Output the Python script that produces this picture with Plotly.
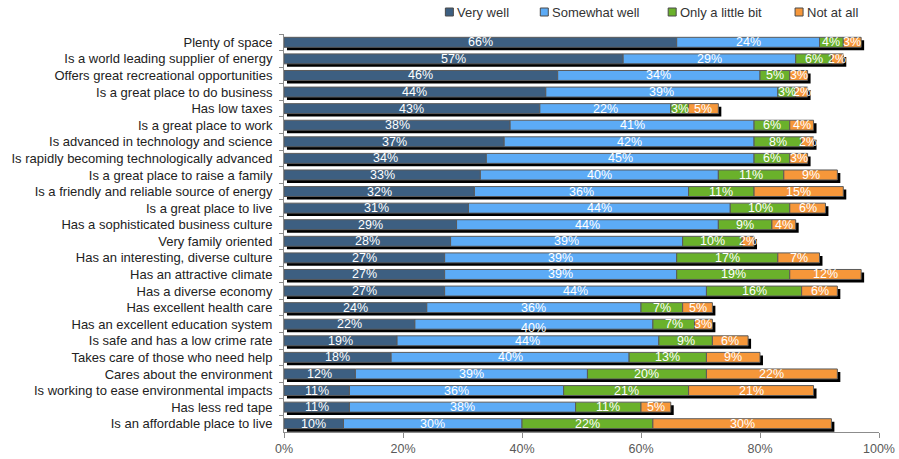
import plotly.graph_objects as go

categories = [
    "Plenty of space",
    "Is a world leading supplier of energy",
    "Offers great recreational opportunities",
    "Is a great place to do business",
    "Has low taxes",
    "Is a great place to work",
    "Is advanced in technology and science",
    "Is rapidly becoming technologically advanced",
    "Is a great place to raise a family",
    "Is a friendly and reliable source of energy",
    "Is a great place to live",
    "Has a sophisticated business culture",
    "Very family oriented",
    "Has an interesting, diverse culture",
    "Has an attractive climate",
    "Has a diverse economy",
    "Has excellent health care",
    "Has an excellent education system",
    "Is safe and has a low crime rate",
    "Takes care of those who need help",
    "Cares about the environment",
    "Is working to ease environmental impacts",
    "Has less red tape",
    "Is an affordable place to live",
]

very_well = [66, 57, 46, 44, 43, 38, 37, 34, 33, 32, 31, 29, 28, 27, 27, 27, 24, 22, 19, 18, 12, 11, 11, 10]
somewhat_well = [24, 29, 34, 39, 22, 41, 42, 45, 40, 36, 44, 44, 39, 39, 39, 44, 36, 40, 44, 40, 39, 36, 38, 30]
only_a_little = [4, 6, 5, 3, 3, 6, 8, 6, 11, 11, 10, 9, 10, 17, 19, 16, 7, 7, 9, 13, 20, 21, 11, 22]
not_at_all = [3, 2, 3, 2, 5, 4, 2, 3, 9, 15, 6, 4, 2, 7, 12, 6, 5, 3, 6, 9, 22, 21, 5, 30]

series_names = ["Very well", "Somewhat well", "Only a little bit", "Not at all"]
series_values = [very_well, somewhat_well, only_a_little, not_at_all]
series_colors = ["#3d5f81", "#5cabf6", "#6ab12b", "#f6973a"]

x_ticks = [0, 20, 40, 60, 80, 100]
x_tick_labels = ["0%", "20%", "40%", "60%", "80%", "100%"]

FONT = "Arial, 'Liberation Sans', sans-serif"
BAR_W = 0.6

fig = go.Figure()

totals = [sum(vals) for vals in zip(*series_values)]

# drop shadow behind each stacked row
fig.add_trace(go.Bar(
    y=categories, x=totals, base=[0.5] * len(categories),
    orientation="h", width=BAR_W, offset=-BAR_W / 2 + 0.18,
    marker=dict(color="#000000", line=dict(width=0)),
    showlegend=False, hoverinfo="skip",
))

annotations = []
cum = [0] * len(categories)
for name, vals, color in zip(series_names, series_values, series_colors):
    fig.add_trace(go.Bar(
        y=categories, x=vals, base=list(cum), name=name,
        orientation="h", width=BAR_W, offset=-BAR_W / 2,
        marker=dict(color=color, line=dict(color="#5a5a5a", width=1)),
        showlegend=False,
    ))
    for i, (cat, v) in enumerate(zip(categories, vals)):
        shift = -4 if (name == "Somewhat well" and cat == "Has an excellent education system") else 0
        annotations.append(dict(
            x=cum[i] + v / 2, y=cat, xref="x", yref="y",
            text=f"{v}%", showarrow=False, yshift=shift,
            font=dict(family=FONT, size=12.5, color="#ffffff"),
        ))
    cum = [c + v for c, v in zip(cum, vals)]

# legend across the top
legend_x = [449, 544, 672, 799]
shapes = []
for lx, name, color in zip(legend_x, series_names, series_colors):
    px = (lx - 283.5) / (879 - 283.5)
    shapes.append(dict(
        type="rect", xref="paper", yref="paper",
        xsizemode="pixel", ysizemode="pixel",
        xanchor=px, yanchor=1, x0=-4, x1=4, y0=18, y1=26,
        fillcolor=color, line=dict(color="#4a4a4a", width=1),
    ))
    annotations.append(dict(
        x=px, y=1, xref="paper", yref="paper", xanchor="left", yanchor="middle",
        xshift=6, yshift=22, text=name, showarrow=False,
        font=dict(family=FONT, size=13, color="#333333"),
    ))

fig.update_layout(
    width=899, height=459,
    margin=dict(l=284, r=20, t=34, b=27),
    paper_bgcolor="white", plot_bgcolor="white",
    barmode="overlay",
    showlegend=False,
    annotations=annotations,
    shapes=shapes,
    font=dict(family=FONT, size=12, color="#222222"),
)
fig.update_xaxes(
    range=[0, 100], tickvals=x_ticks, ticktext=x_tick_labels,
    showgrid=False, zeroline=False, automargin=False,
    showline=True, linecolor="#8c8c8c", linewidth=1,
    ticks="outside", ticklen=5, tickcolor="#8c8c8c",
    tickfont=dict(family=FONT, size=12.5, color="#595959"),
)
fig.update_yaxes(
    type="category", categoryorder="array", categoryarray=categories,
    range=[len(categories) - 0.5, -0.5],
    showgrid=False, zeroline=False, automargin=False,
    showline=True, linecolor="#8c8c8c", linewidth=1,
    ticks="outside", ticklen=4, tickcolor="#8c8c8c", tickson="boundaries",
    ticklabelstandoff=8,
    tickfont=dict(family=FONT, size=13, color="#222222"),
)

fig.write_html("out.html")
